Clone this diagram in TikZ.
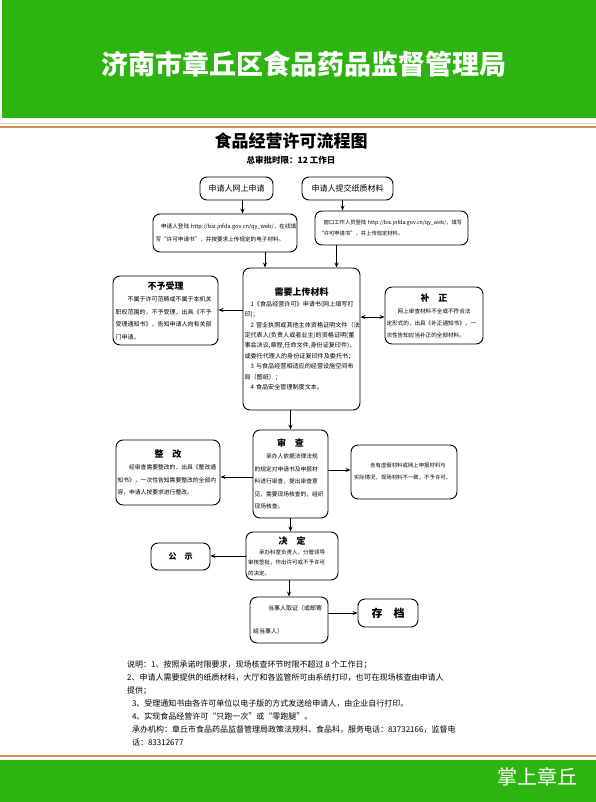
\documentclass[tikz,border=0pt]{standalone}
\usepackage{fontspec}
\setmainfont{Noto Sans CJK SC}
\usetikzlibrary{arrows.meta,calc}
\definecolor{bandgreen}{RGB}{46,180,16}
\definecolor{bandorange}{RGB}{214,140,84}
\newcommand{\fs}[2]{\fontsize{#1}{#2}\selectfont}
\newcommand{\boxhead}[1]{\centerline{\bfseries\fontsize{9}{12}\selectfont #1}}
\begin{document}
\begin{tikzpicture}[x=1pt, y=-1pt, line join=round, >={Stealth[length=5pt,width=4pt]},
	box/.style={draw, line width=0.9pt, rounded corners=7pt, inner sep=0pt, align=left},
	arr/.style={->, line width=0.8pt}]
	\useasboundingbox (0,0) rectangle (596,802);
	% header and footer bands
	\fill[bandgreen] (2,0) rectangle (596,118);
	\node[white, font=\bfseries\fs{27}{30}] (agency) at (304,64) {济南市章丘区食品药品监督管理局};
	\draw[bandorange!45, line width=0.8pt] (0,123) -- (596,123);
	\draw[bandorange, line width=2pt] (0,127) -- (596,127);
	\draw[bandorange, line width=2pt] (0,756) -- (596,756);
	\fill[bandgreen] (0,760) rectangle (596,802);
	\node[white, font=\fs{20}{24}] (mark) at (537,777) {掌上章丘};
	% title
	\node[font=\bfseries\fs{17}{20}] (title) at (291,141) {食品经营许可流程图};
	\node[font=\bfseries\fs{8.5}{10}] (limit) at (291,160) {总审批时限：12~工作日};
	% application
	\node[box, minimum width=73, minimum height=23, font=\fs{8}{10}, align=center] (online) at (236.5,188.5) {申请人网上申请};
	\node[box, minimum width=91, minimum height=23, font=\fs{8}{10}, align=center] (paper) at (347.5,188.5) {申请人提交纸质材料};
	\node[box, minimum width=144, minimum height=38, text width=139, font=\fs{5.6}{13}] (login) at (225,233)
		{\hspace*{1em}申请人登陆~http://biz.jnfda.gov.cn/qy\_web/，在线填\\写“许可申请书”，并按要求上传规定的电子材料。};
	\node[box, minimum width=153, minimum height=34, text width=146, font=\fs{5.3}{11}] (window) at (391.5,228)
		{\hspace*{1em}窗口工作人员登陆~http://biz.jnfda.gov.cn/qy\_web/，填写\\“许可申请书”，并上传规定材料。};
	% materials
	\node[box, minimum width=117, minimum height=142, text width=114, font=\fs{6.1}{10.4}] (materials) at (301.5,339)
		{\boxhead{需要上传材料}
		\hspace*{1em}1《食品经营许可》申请书(网上填写打\\印)；\\
		\hspace*{1em}2~营业执照或其他主体资格证明文件（法\\定代表人(负责人或者业主)的资格证明(董\\事会决议,章程,任命文件,身份证复印件)，\\或委托代理人的身份证复印件及委托书；\\
		\hspace*{1em}3~与食品经营相适应的经营设施空间布\\局（图纸）；\\
		\hspace*{1em}4~食品安全管理制度文本。};
	\node[box, minimum width=105, minimum height=69, text width=100, font=\fs{6}{12.5}] (reject) at (165.5,310.5)
		{\boxhead{不予受理}
		\hspace*{2em}不属于许可范畴或不属于本机关\\职权范围的，不予受理，出具《不予\\受理通知书》，告知申请人向有关部\\门申请。};
	\node[box, minimum width=98, minimum height=57, text width=95, font=\fs{5.6}{12}] (amend) at (434,315.5)
		{\boxhead{补\quad 正}
		\hspace*{2em}网上审查材料不全或不符合法\\定形式的，出具《补正通知书》，一\\次性告知应当补正的全部材料。};
	% review
	\node[box, minimum width=75, minimum height=88, text width=72, font=\fs{5.75}{12.5}] (review) at (290.5,474)
		{\boxhead{审\quad 查}
		\hspace*{2em}承办人依据法律法规\\的规定对申请书及申报材\\料进行审查，提出审查意\\见，需要现场核查的，组织\\现场核查。};
	\node[box, minimum width=104, minimum height=65, text width=101, font=\fs{5.8}{12.3}] (rectify) at (168,472.5)
		{\boxhead{整\quad 改}
		\hspace*{2em}经审查需要整改的，出具《整改通\\知书》，一次性告知需要整改的全部内\\容，申请人按要求进行整改。};
	\node[box, minimum width=106, minimum height=54, text width=100, font=\fs{5.4}{12}] (refuse) at (404,472)
		{\hspace*{3em}含有虚假材料或网上申报材料与\\实际情况，现场材料不一致，不予许可。};
	% decision
	\node[box, minimum width=92, minimum height=48, text width=88, font=\fs{5.5}{10.3}] (decide) at (292,556)
		{\boxhead{决\quad 定}
		\hspace*{2em}承办科室负责人，分管领导\\审核签批，作出许可或不予许可\\的决定。};
	\node[box, minimum width=59, minimum height=27, font=\bfseries\fs{8}{10}, align=center] (publish) at (180.5,556.5) {公\quad 示};
	\node[box, minimum width=78, minimum height=46, text width=72, font=\fs{6}{8}] (collect) at (289,620)
		{\hspace*{2.5em}当事人取证（或邮寄\\[15pt]给当事人）};
	\node[box, minimum width=60, minimum height=28, font=\bfseries\fs{11}{13}, align=center] (archive) at (388,613) {存\quad 档};
	% connectors
	\draw[arr] ([xshift=6]online.south) -- ([xshift=6]online.south |- login.north);
	\draw[arr] ([xshift=-5]paper.south) -- ([xshift=-5]paper.south |- window.north);
	\draw[arr] ([xshift=40]login.south) -- ([xshift=40]login.south |- materials.north);
	\draw[arr] ([xshift=-55]window.south) -- ([xshift=-55]window.south |- materials.north);
	\draw[arr] ([yshift=29]materials.west) -- ([yshift=29]materials.west -| reject.east);
	\draw[arr, <->] ([yshift=22]materials.east) -- ([yshift=22]materials.east -| amend.west);
	\draw[arr] ([xshift=-11]materials.south) -- ([xshift=-11]materials.south |- review.north);
	\draw[arr] ([yshift=-3]review.west) -- ([yshift=-3]review.west -| rectify.east);
	\draw[arr] ([yshift=4]review.east) -- ([yshift=4]review.east -| refuse.west);
	\draw[arr] (review.south) -- (review.south |- decide.north);
	\draw[arr] (decide.west) -- (decide.west -| publish.east);
	\draw[arr] (collect.north |- decide.south) -- (collect.north);
	\draw[arr] (archive.west -| collect.east) -- (archive.west);
	% notes
	\node[anchor=north west, align=left, inner sep=0pt, font=\fs{8}{13}] (notes) at (127,661)
		{说明：1、按照承诺时限要求，现场核查环节时限不超过~8~个工作日；\\
		2、申请人需要提供的纸质材料，大厅和各监管所可由系统打印，也可在现场核查由申请人\\
		提供；\\
		\hspace*{0.6em}3、受理通知书由各许可单位以电子版的方式发送给申请人，由企业自行打印。\\
		\hspace*{0.6em}4、实现食品经营许可“只跑一次”或“零跑腿”。\\
		\hspace*{0.6em}承办机构：章丘市食品药品监督管理局政策法规科、食品科，服务电话：83732166，监督电\\
		\hspace*{0.6em}话：83312677};
\end{tikzpicture}
\end{document}
